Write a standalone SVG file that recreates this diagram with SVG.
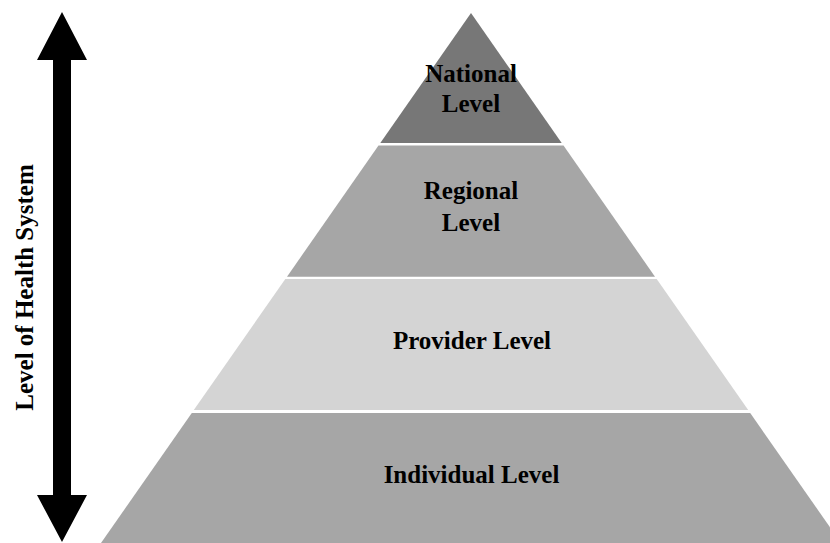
<svg xmlns="http://www.w3.org/2000/svg" width="830" height="543" viewBox="0 0 830 543">
  <style>
    .lbl { font-family: "Liberation Serif", "Times New Roman", serif; font-weight: bold; font-size: 25px; fill: #000; text-anchor: middle; }
    .tier-top { fill: #777777; }
    .tier-mid { fill: #a6a6a6; }
    .tier-light { fill: #d4d4d4; }
  </style>
  <rect width="830" height="543" fill="#ffffff"/>

  <!-- Pyramid tiers, top to bottom -->
  <g id="national">
    <polygon class="tier-top" points="471,13 561.7,143 380.3,143"/>
    <text class="lbl" x="471" y="82">National</text>
    <text class="lbl" x="471" y="112">Level</text>
  </g>
  <g id="regional">
    <polygon class="tier-mid" points="378.5,145.5 563.5,145.5 655,276.7 287,276.7"/>
    <text class="lbl" x="471" y="199">Regional</text>
    <text class="lbl" x="471" y="231">Level</text>
  </g>
  <g id="provider">
    <polygon class="tier-light" points="285.3,279 656.7,279 748.2,410 193.8,410"/>
    <text class="lbl" x="472" y="349">Provider Level</text>
  </g>
  <g id="individual">
    <polygon class="tier-mid" points="191.8,413 750.2,413 841,543 101,543"/>
    <text class="lbl" x="471.5" y="483">Individual Level</text>
  </g>

  <!-- Vertical double-headed axis with its label -->
  <g id="connectors">
    <polygon fill="#000" points="62,12 87,60 71,60 71,495 87,495 62,542 37,495 53,495 53,60 37,60"/>
  </g>
  <g id="axis-label">
    <text class="lbl" transform="translate(33,287.5) rotate(-90)">Level of Health System</text>
  </g>
</svg>
